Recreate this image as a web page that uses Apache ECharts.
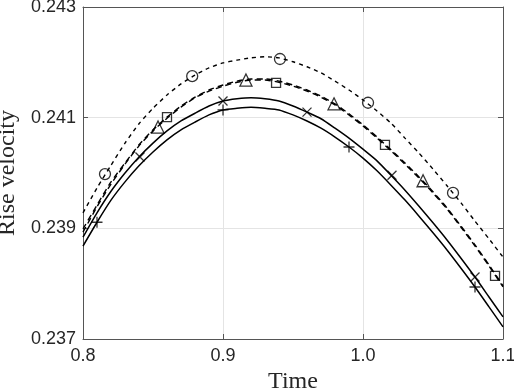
<!DOCTYPE html>
<html>
<head>
<meta charset="utf-8">
<script src="https://cdn.jsdelivr.net/npm/echarts@6/dist/echarts.min.js"></script>
<style>
html, body { margin: 0; padding: 0; background: #fff; }
#canvas { width: 514px; height: 389px; }
</style>
</head>
<body>
<div id="canvas"></div>
<script>
// time samples shared by all curves
var times = [0.80, 0.81, 0.82, 0.83, 0.84, 0.85, 0.86, 0.87, 0.88, 0.89, 0.90,
             0.91, 0.92, 0.93, 0.94, 0.95, 0.96, 0.97, 0.98, 0.99, 1.00,
             1.01, 1.02, 1.03, 1.04, 1.05, 1.06, 1.07, 1.08, 1.09, 1.10];

// curves
var circleCurve = [0.23928, 0.23973, 0.24014, 0.24054, 0.24089, 0.24117, 0.24141, 0.24161, 0.24177, 0.24190, 0.24199,
                   0.24204, 0.24208, 0.24210, 0.24208, 0.24201, 0.24192, 0.24181, 0.24166, 0.24150, 0.24132,
                   0.24112, 0.24090, 0.24063, 0.24036, 0.24007, 0.23977, 0.23946, 0.23913, 0.23881, 0.23848];
var triangleCurve = [0.23899, 0.23942, 0.23984, 0.24018, 0.24051, 0.24078, 0.24101, 0.24121, 0.24137, 0.24150, 0.24159,
                     0.24166, 0.24170, 0.24170, 0.24166, 0.24159, 0.24150, 0.24139, 0.24125, 0.24107, 0.24087,
                     0.24065, 0.24042, 0.24018, 0.23993, 0.23966, 0.23937, 0.23904, 0.23870, 0.23834, 0.23796];
var squareCurve = [0.23893, 0.23939, 0.23980, 0.24016, 0.24049, 0.24076, 0.24099, 0.24119, 0.24136, 0.24148, 0.24157,
                   0.24164, 0.24168, 0.24168, 0.24164, 0.24157, 0.24148, 0.24137, 0.24123, 0.24105, 0.24085,
                   0.24063, 0.24040, 0.24016, 0.23991, 0.23964, 0.23935, 0.23902, 0.23868, 0.23832, 0.23794];
var crossCurve = [0.23884, 0.23928, 0.23967, 0.24000, 0.24029, 0.24054, 0.24076, 0.24094, 0.24108, 0.24121, 0.24130,
                  0.24134, 0.24136, 0.24134, 0.24130, 0.24121, 0.24110, 0.24098, 0.24081, 0.24063, 0.24043,
                  0.24022, 0.23996, 0.23969, 0.23940, 0.23910, 0.23879, 0.23846, 0.23812, 0.23776, 0.23740];
var plusCurve = [0.23868, 0.23911, 0.23951, 0.23984, 0.24013, 0.24038, 0.24060, 0.24078, 0.24092, 0.24105, 0.24114,
                 0.24117, 0.24119, 0.24117, 0.24114, 0.24105, 0.24094, 0.24081, 0.24065, 0.24047, 0.24027,
                 0.24004, 0.23978, 0.23951, 0.23922, 0.23892, 0.23861, 0.23828, 0.23794, 0.23758, 0.23722];

// marker points
var circleX = [0.8157, 0.8780, 0.9407, 1.0036, 1.0643];
var circleY = [0.23998, 0.24175, 0.24206, 0.24127, 0.23964];
var triangleX = [0.8536, 0.9164, 0.9793, 1.0429];
var triangleY = [0.24083, 0.24168, 0.24125, 0.23986];
var squareX = [0.8600, 0.9379, 1.0157, 1.0943];
var squareY = [0.24101, 0.24163, 0.24051, 0.23814];
var crossX = [0.8407, 0.9000, 0.9600, 1.0207, 1.0800];
var crossY = [0.24029, 0.24130, 0.24110, 0.23996, 0.23812];
var plusX = [0.8100, 0.9000, 0.9900, 1.0800];
var plusY = [0.23911, 0.24114, 0.24047, 0.23794];

var xTicks = [0.8, 0.9, 1.0, 1.1];
var yTicks = [0.237, 0.239, 0.241, 0.243];

var zip = function(xs, ys) {
    return xs.map(function(x, i) { return [x, ys[i]]; });
};

var lineSeries = function(ys, dash, width) {
    return {
        type: 'line',
        data: zip(times, ys),
        symbol: 'none',
        smooth: 0.2,
        silent: true,
        lineStyle: { color: '#000', width: width, type: dash }
    };
};

var markSeries = function(xs, ys, symbol, size) {
    return {
        type: 'scatter',
        data: zip(xs, ys),
        symbol: symbol,
        symbolSize: size,
        silent: true,
        z: 5,
        itemStyle: { color: 'rgba(0,0,0,0)', borderColor: '#000', borderWidth: 1.3 }
    };
};

var myChart = echarts.init(document.getElementById('canvas'));
var axisColor = '#262626';
var frameColor = '#555';
var labelFont = 'Liberation Sans';

var option = {
    animation: false,
    backgroundColor: '#fff',
    grid: { left: 83, right: 11, top: 7, bottom: 50, containLabel: false, outerBoundsMode: 'none' },
    xAxis: [{
        type: 'value',
        min: xTicks[0],
        max: xTicks[xTicks.length - 1],
        interval: 0.1,
        position: 'bottom',
        name: 'Time',
        nameLocation: 'middle',
        nameGap: 28,
        nameTextStyle: { fontFamily: 'Liberation Serif', fontSize: 24, color: axisColor },
        axisLine: { show: true, onZero: false, lineStyle: { color: frameColor, width: 1 } },
        axisTick: { show: true, inside: true, length: 5, lineStyle: { color: frameColor } },
        axisLabel: {
            fontFamily: labelFont, fontSize: 18, color: axisColor, margin: 8,
            formatter: function(v) { return v.toFixed(1); }
        },
        splitLine: { show: true, lineStyle: { color: '#e4e4e4', width: 1 } }
    }, {
        type: 'value',
        min: xTicks[0],
        max: xTicks[xTicks.length - 1],
        interval: 0.1,
        position: 'top',
        axisLine: { show: true, onZero: false, lineStyle: { color: frameColor, width: 1 } },
        axisTick: { show: true, inside: true, length: 5, lineStyle: { color: frameColor } },
        axisLabel: { show: false },
        splitLine: { show: false }
    }],
    yAxis: [{
        type: 'value',
        min: yTicks[0],
        max: yTicks[yTicks.length - 1],
        interval: 0.002,
        position: 'left',
        name: 'Rise velocity',
        nameLocation: 'middle',
        nameGap: 61,
        nameTextStyle: { fontFamily: 'Liberation Serif', fontSize: 24, color: axisColor },
        axisLine: { show: true, onZero: false, lineStyle: { color: frameColor, width: 1 } },
        axisTick: { show: true, inside: true, length: 5, lineStyle: { color: frameColor } },
        axisLabel: {
            fontFamily: labelFont, fontSize: 18, color: axisColor, margin: 7,
            formatter: function(v) { return v.toFixed(3); }
        },
        splitLine: { show: true, lineStyle: { color: '#e4e4e4', width: 1 } }
    }, {
        type: 'value',
        min: yTicks[0],
        max: yTicks[yTicks.length - 1],
        interval: 0.002,
        position: 'right',
        axisLine: { show: true, onZero: false, lineStyle: { color: frameColor, width: 1 } },
        axisTick: { show: true, inside: true, length: 5, lineStyle: { color: frameColor } },
        axisLabel: { show: false },
        splitLine: { show: false }
    }],
    series: [
        lineSeries(circleCurve, [4, 4], 1.4),
        lineSeries(triangleCurve, [6, 4], 1.4),
        lineSeries(squareCurve, [6, 4], 1.4),
        lineSeries(crossCurve, 'solid', 1.5),
        lineSeries(plusCurve, 'solid', 1.5),
        markSeries(circleX, circleY, 'circle', 11),
        markSeries(triangleX, triangleY, 'triangle', 12),
        markSeries(squareX, squareY, 'rect', 9),
        markSeries(crossX, crossY, 'path://M0,0L10,10M10,0L0,10', 9),
        markSeries(plusX, plusY, 'path://M5,0L5,10M0,5L10,5', 11)
    ]
};
myChart.setOption(option);
</script>
</body>
</html>
